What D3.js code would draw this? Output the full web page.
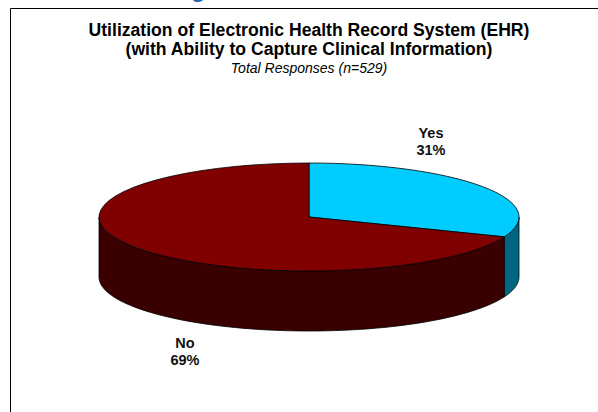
<!DOCTYPE html>
<html>
  <head>
    <style>
      body { margin: 0; background: #fff; }
      text { font-family: "Liberation Sans", Arial, sans-serif; }
    </style>
  </head>
  <body>
    <script src="https://d3js.org/d3.v7.min.js"></script>
    <script>
      const categories = ["Yes", "No"];
      const values = [31, 69];
      const topColors = ["#00ccff", "#800000"];
      const sideColors = ["#006680", "#3a0000"];

      const W = 598, H = 412;
      const cx = 309, cy = 217, rx = 210, ry = 54, depth = 60;

      const svg = d3.select("body").append("svg")
        .attr("width", W).attr("height", H);

      // cut-off slide heading above the frame
      svg.append("text")
        .attr("x", 191).attr("y", -3)
        .attr("fill", "#2a62a8")
        .attr("font-size", 24).attr("font-weight", "bold")
        .text("g");

      svg.append("path")
        .attr("d", `M10.5,${H + 5}V8.5H${W + 5}`)
        .attr("fill", "none").attr("stroke", "#000").attr("stroke-width", 1);

      const title = svg.append("text")
        .attr("text-anchor", "middle")
        .attr("font-weight", "bold").attr("font-size", 17.6)
        .attr("fill", "#000");
      title.append("tspan").attr("x", cx).attr("y", 36)
        .text("Utilization of Electronic Health Record System (EHR)");
      title.append("tspan").attr("x", cx).attr("y", 55)
        .text("(with Ability to Capture Clinical Information)");
      svg.append("text")
        .attr("x", cx).attr("y", 73)
        .attr("text-anchor", "middle")
        .attr("font-style", "italic").attr("font-size", 14)
        .text("Total Responses (n=529)");

      const pie = d3.pie().sort(null).value(d => d.v);
      const arcs = pie(categories.map((c, i) => ({ c, v: values[i], i })));

      const px = a => cx + rx * Math.sin(a);
      const py = a => cy - ry * Math.cos(a);

      // visible outer walls (front half: angles between PI/2 and 3PI/2)
      const sides = svg.append("g");
      arcs.forEach(d => {
        const a0 = Math.max(d.startAngle, Math.PI / 2);
        const a1 = Math.min(d.endAngle, 3 * Math.PI / 2);
        if (a1 <= a0) return;
        const n = 80;
        const ang = d3.range(n + 1).map(k => a0 + (a1 - a0) * k / n);
        const p = d3.path();
        p.moveTo(px(ang[0]), py(ang[0]));
        ang.forEach(a => p.lineTo(px(a), py(a)));
        ang.slice().reverse().forEach(a => p.lineTo(px(a), py(a) + depth));
        p.closePath();
        sides.append("path")
          .attr("d", p.toString())
          .attr("fill", sideColors[d.data.i])
          .attr("stroke", "#000").attr("stroke-width", 0.8)
          .attr("stroke-linejoin", "round");
      });

      // top faces: unit arcs scaled into an ellipse
      const arc = d3.arc().innerRadius(0).outerRadius(1);
      svg.append("g")
        .attr("transform", `translate(${cx},${cy}) scale(${rx},${ry})`)
        .selectAll("path")
        .data(arcs)
        .join("path")
        .attr("d", arc)
        .attr("fill", d => topColors[d.data.i])
        .attr("stroke", "#000").attr("stroke-width", 0.8)
        .attr("vector-effect", "non-scaling-stroke");

      const labelPos = [[431, 138], [185, 348]];
      arcs.forEach((d, i) => {
        const t = svg.append("text")
          .attr("text-anchor", "middle")
          .attr("font-weight", "bold").attr("font-size", 14.5)
          .attr("fill", "#111");
        t.append("tspan").attr("x", labelPos[i][0]).attr("y", labelPos[i][1])
          .text(d.data.c);
        t.append("tspan").attr("x", labelPos[i][0]).attr("y", labelPos[i][1] + 17)
          .text(d.data.v + "%");
      });
    </script>
  </body>
</html>
